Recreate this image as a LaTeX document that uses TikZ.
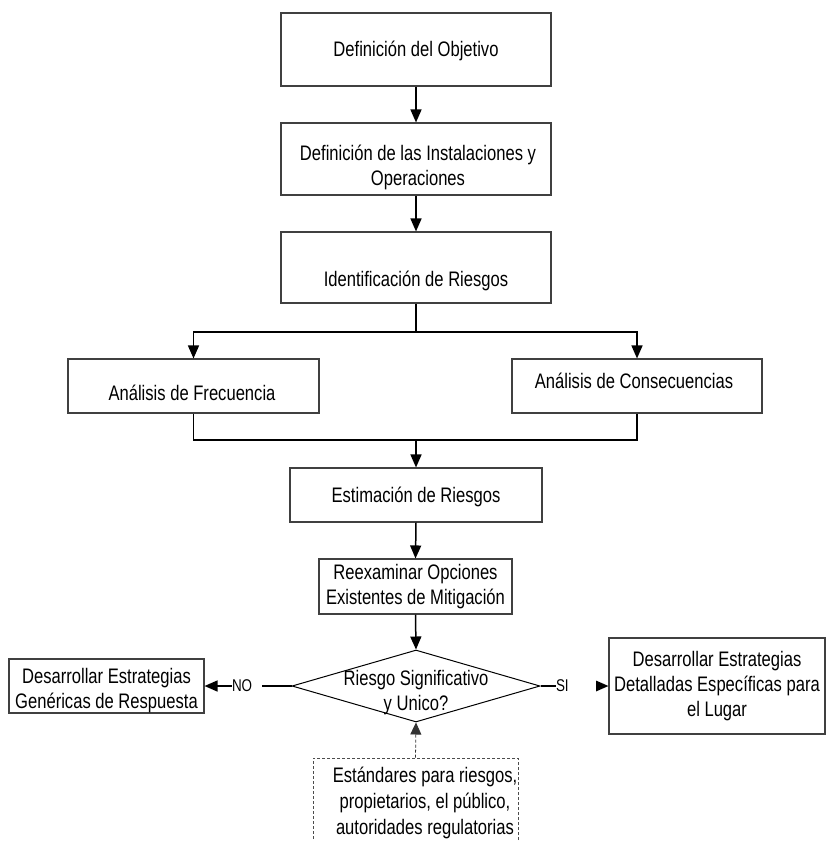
\documentclass[tikz,border=0pt]{standalone}
\usepackage{fontspec}
\setmainfont{Liberation Sans}[FakeStretch=0.79]
\usetikzlibrary{arrows.meta,shapes.geometric}
\begin{document}
\begin{tikzpicture}[x=1pt,y=-1pt,
  every node/.style={font=\fontsize{21}{25}\selectfont},
  box/.style={draw=black!75, line width=1.1pt, fill=white, inner sep=0pt},
  lbl/.style={inner sep=0pt, align=center},
  conn/.style={line width=1.5pt, draw=black},
  arr/.style={conn, -{Triangle[width=11pt,length=13pt]}},
  dasharr/.style={draw=black!80, line width=0.8pt, dash pattern=on 3pt off 2pt, -{Triangle[width=11pt,length=12pt]}},
  yn/.style={fill=white, inner sep=0pt, minimum height=14pt, font=\fontsize{17}{17}\selectfont},
]
\useasboundingbox (0,0) rectangle (828,841);

% boxes
\node[box, minimum width=270pt, minimum height=73pt] (obj) at (416,49.5) {};
\node[lbl] (objt) at (416,51) {Definición del Objetivo};

\node[box, minimum width=270pt, minimum height=72pt] (inst) at (416,159) {};
\node[lbl] (instt) at (418,167.5) {Definición de las Instalaciones y\\Operaciones};

\node[box, minimum width=270pt, minimum height=71pt] (ident) at (416,267.5) {};
\node[lbl] (identt) at (416,281) {Identificación de Riesgos};

\node[box, minimum width=251pt, minimum height=54pt] (freq) at (193.5,386) {};
\node[lbl] (freqt) at (192,393) {Análisis de Frecuencia};

\node[box, minimum width=250pt, minimum height=54pt] (cons) at (637,386) {};
\node[lbl] (const) at (634,381) {Análisis de Consecuencias};

\node[box, minimum width=252pt, minimum height=54pt] (est) at (416,495) {};
\node[lbl] (estt) at (416,497) {Estimación de Riesgos};

\node[box, minimum width=193pt, minimum height=55pt, align=center] (reex) at (415.5,586.5) {Reexaminar Opciones\\Existentes de Mitigación};

\node[diamond, draw=black, line width=1pt, aspect=3.4, inner sep=0pt, minimum width=248pt, minimum height=72pt] (dec) at (416,686) {};
\node[lbl] (dect) at (416,693) {Riesgo Significativo\\y Unico?};

\node[box, minimum width=195pt, minimum height=54pt] (gen) at (106.5,686) {};
\node[lbl] (gent) at (106.5,691) {Desarrollar Estrategias\\Genéricas de Respuesta};

\node[box, minimum width=216pt, minimum height=96pt, align=center] (det) at (717,686) {Desarrollar Estrategias\\Detalladas Específicas para\\el Lugar};

\node[draw=black!70, line width=0.8pt, dash pattern=on 3pt off 2pt, inner sep=0pt, minimum width=205pt, minimum height=92pt] (std) at (415.5,804) {};
\node[lbl, font=\fontsize{21}{26}\selectfont] (stdt) at (425,803) {Estándares para riesgos,\\propietarios, el público,\\autoridades regulatorias};

% connectors
\draw[arr] (obj.south) -- (inst.north);
\draw[arr] (inst.south) -- (ident.north);
\coordinate (split) at (416,332);
\draw[conn] (ident.south) -- (split);
\draw[arr] (split) -| (freq.north);
\draw[arr] (split) -| (cons.north);
\coordinate (merge) at (416,440);
\draw[conn] (freq.south) |- (merge);
\draw[conn] (cons.south) |- (merge);
\draw[arr] (merge) -- (est.north);
\draw[arr] (est.south) -- (reex.north);
\draw[arr] (reex.south) -- (dec.north);
\draw[arr] (dec.west) -- (gen.east);
\draw[arr] (dec.east) -- (det.west);
\draw[dasharr] (std.north) -- (dec.south);

% branch labels
\node[yn] (no) at (247,686) {\makebox[30pt][l]{NO}};
\node[yn] (si) at (576,686) {\makebox[40pt][l]{SI}};
\end{tikzpicture}
\end{document}
